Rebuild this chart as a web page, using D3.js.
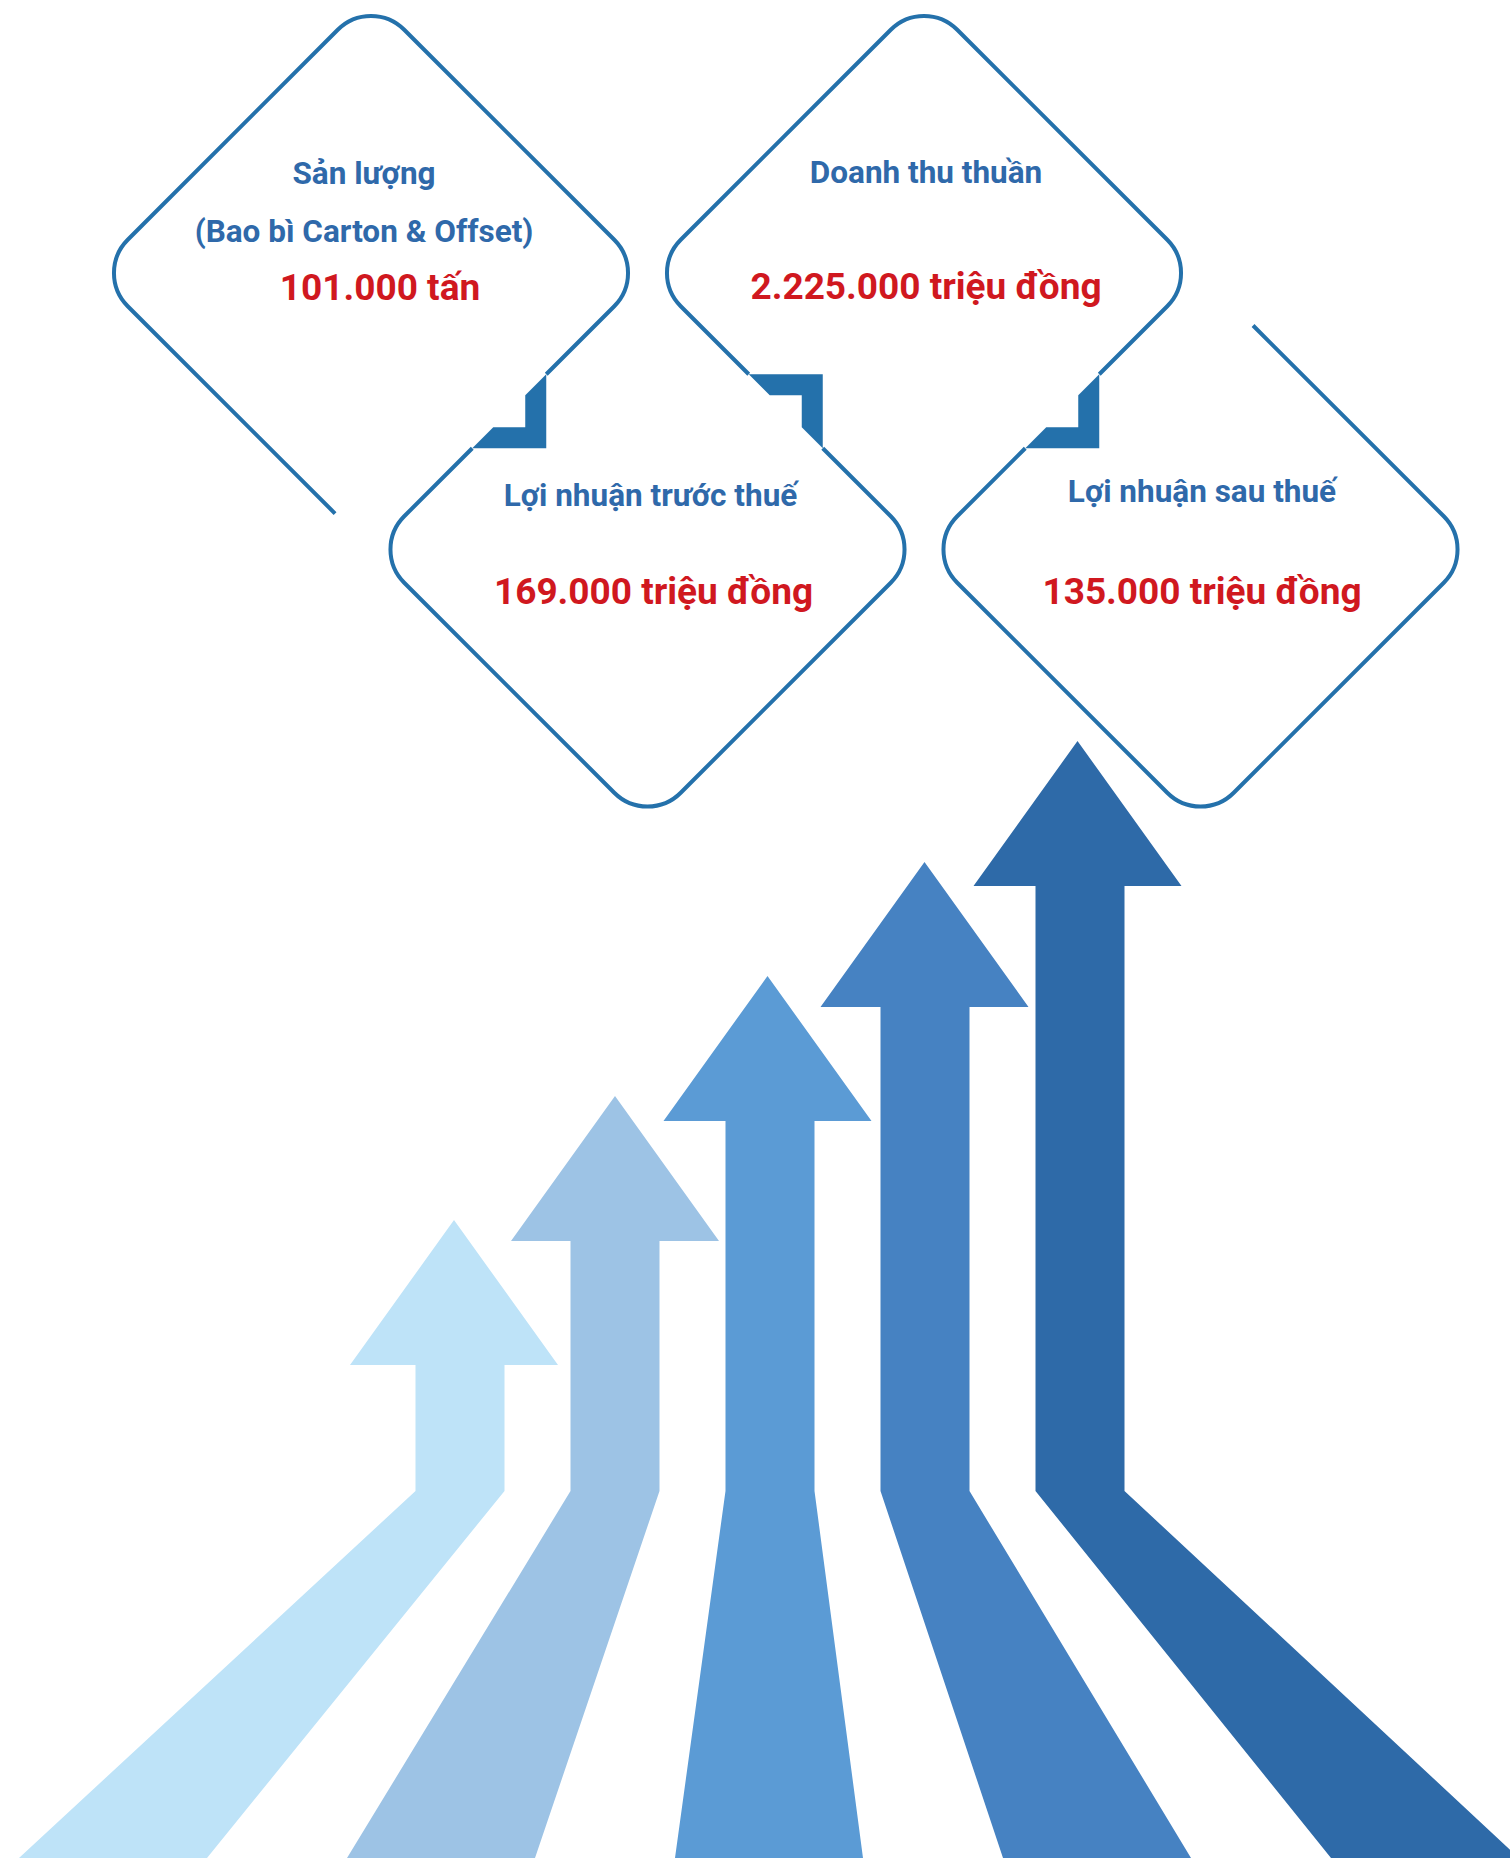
<!DOCTYPE html>
<html>
<head>
<meta charset="utf-8">
<script src="https://cdn.jsdelivr.net/npm/d3@7"></script>
<style>
  html, body { margin: 0; padding: 0; background: #ffffff; }
  svg { display: block; }
  text { font-family: Roboto, "Noto Sans", sans-serif; font-weight: 700; }
</style>
</head>
<body>
<svg id="chart" width="1510" height="1858"></svg>
<script>
// ---------- DATA ----------
const metricTitles = [
  ["Sản lượng", "(Bao bì Carton & Offset)"],
  ["Doanh thu thuần"],
  ["Lợi nhuận trước thuế"],
  ["Lợi nhuận sau thuế"]
];
const metricValues = ["101.000", "2.225.000", "169.000", "135.000"];
const metricUnits = ["tấn", "triệu đồng", "triệu đồng", "triệu đồng"];

const arrowNames = ["A1", "A2", "A3", "A4", "A5"];
const arrowHeights = [271, 395, 515, 629, 750];
const arrowColors = ["#BEE3F8", "#9DC3E5", "#5B9BD5", "#4682C2", "#2E6AA8"];

// ---------- LAYOUT ----------
const W = 1510, H = 1858;
const svg = d3.select("#chart");
svg.append("rect").attr("width", W).attr("height", H).attr("fill", "#ffffff");

const lineColor = "#2471AB";
const titleColor = "#2F69AA";
const valueColor = "#D0181F";

// ---------- ARROWS ----------
const bendY = 1491;
const xShaft = d3.scalePoint().domain(arrowNames).range([460, 1080]);
const xBase = d3.scalePoint().domain(arrowNames).range([113, 1425]);
const yH = d3.scaleLinear().domain([0, 750]).range([bendY, bendY - 750]);
const headShift = [-6, 0, -2.5, -0.5, -2.5];
const headH = 145, headHalf = 104, shaftHalf = 44.5, baseHalf = 94;

const arrowsG = svg.append("g");
arrowNames.forEach((name, i) => {
  const cx = xShaft(name), bx = xBase(name), ty = yH(arrowHeights[i]);
  const hx = cx + headShift[i];
  const hb = ty + headH;
  const pts = [
    [hx, ty], [hx + headHalf, hb], [cx + shaftHalf, hb], [cx + shaftHalf, bendY],
    [bx + baseHalf, H], [bx - baseHalf, H], [cx - shaftHalf, bendY],
    [cx - shaftHalf, hb], [hx - headHalf, hb]
  ];
  arrowsG.append("path")
    .attr("d", d3.line()(pts) + "Z")
    .attr("fill", arrowColors[i]);
});

// ---------- DIAMOND CHAIN ----------
const step = 276.5, ox = 371, oy = 273, r = 47, d = 37, t = 21;
const gx = d3.scaleLinear().domain([0, 1]).range([ox, ox + step]);
const gy = d3.scaleLinear().domain([0, 1]).range([oy, oy + step]);
const P = (i, j) => ({ x: gx(i), y: gy(j) });

const verts = [
  P(-1, 0), P(0, -1), P(1, 0),
  P(0, 1), P(1, 2), P(2, 1),
  P(1, 0), P(2, -1), P(3, 0),
  P(2, 1), P(3, 2), P(4, 1)
];
const startPt = { x: gx(-0.13), y: gy(0.87) };
const endPt = { x: gx(3.19), y: gy(0.19) };

const notches = [
  { k: 2, sx: 1, sy: 1 },
  { k: 5, sx: 1, sy: -1 },
  { k: 8, sx: 1, sy: 1 }
];

function notchGeom(A, B, sx, sy) {
  const M = { x: (A.x + B.x) / 2, y: (A.y + B.y) / 2 };
  const K = { x: M.x + d * sx, y: M.y + d * sy };
  const m = (B.y - A.y) / (B.x - A.x);
  const lineY = x => A.y + (x - A.x) * m;
  const lineX = y => A.x + (y - A.y) / m;
  const poly = [
    [lineX(K.y), K.y], [K.x, K.y], [K.x, lineY(K.x)],
    [K.x - t * sx, lineY(K.x - t * sx)], [K.x - t * sx, K.y - t * sy],
    [lineX(K.y - t * sy), K.y - t * sy]
  ];
  const g1 = { x: K.x, y: lineY(K.x) }, g2 = { x: lineX(K.y), y: K.y };
  const dist = p => Math.hypot(p.x - A.x, p.y - A.y);
  const gaps = dist(g1) < dist(g2) ? [g1, g2] : [g2, g1];
  return { poly, gaps };
}

const path = d3.path();
path.moveTo(startPt.x, startPt.y);
const polys = [];
verts.forEach((v, k) => {
  const next = verts[k + 1] || endPt;
  path.arcTo(v.x, v.y, next.x, next.y, r);
  const n = notches.find(nn => nn.k === k);
  if (n) {
    const g = notchGeom(v, next, n.sx, n.sy);
    path.lineTo(g.gaps[0].x, g.gaps[0].y);
    path.moveTo(g.gaps[1].x, g.gaps[1].y);
    polys.push(g.poly);
  }
});
path.lineTo(endPt.x, endPt.y);

svg.append("path")
  .attr("d", path.toString())
  .attr("fill", "none")
  .attr("stroke", lineColor)
  .attr("stroke-width", 4)
  .attr("stroke-linejoin", "round");

polys.forEach(p => {
  svg.append("path").attr("d", d3.line()(p) + "Z").attr("fill", lineColor);
});

// ---------- TEXT ----------
const centers = [P(0, 0), P(2, 0), P(1, 1), P(3, 1)];
const textLayout = [
  { tdx: -7, tdy: [-89, -31], vdx: 9, vdy: 27 },
  { tdx: 2, tdy: [-90], vdx: 2, vdy: 26 },
  { tdx: 3, tdy: [-43.5], vdx: 6, vdy: 54 },
  { tdx: 1.5, tdy: [-48], vdx: 1.5, vdy: 54 }
];
const textG = svg.append("g");
centers.forEach((c, i) => {
  const L = textLayout[i];
  metricTitles[i].forEach((line, j) => {
    textG.append("text")
      .attr("x", c.x + L.tdx).attr("y", c.y + L.tdy[j])
      .attr("text-anchor", "middle")
      .attr("font-size", 31.5)
      .attr("fill", titleColor)
      .text(line);
  });
  textG.append("text")
    .attr("x", c.x + L.vdx).attr("y", c.y + L.vdy)
    .attr("text-anchor", "middle")
    .attr("font-size", 37)
    .attr("fill", valueColor)
    .text(metricValues[i] + " " + metricUnits[i]);
});
</script>
</body>
</html>
